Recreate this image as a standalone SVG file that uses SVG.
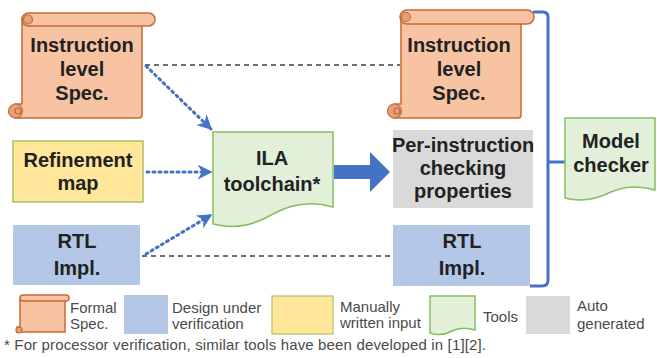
<svg xmlns="http://www.w3.org/2000/svg" width="657" height="358" viewBox="0 0 657 358">
<defs>
<style>
.lbl{font-family:"Liberation Sans",Arial,sans-serif;font-weight:bold;font-size:20px;fill:#222;text-anchor:middle}
.leg{font-family:"Liberation Sans",Arial,sans-serif;font-size:15px;fill:#4a4a4a}
.scroll{fill:#f8c3a3;stroke:#c66a35;stroke-width:1.5}
.curl{fill:#e3a07a;stroke:#c66a35;stroke-width:1.2}
.doc{fill:#e2f0d9;stroke:#86bd60;stroke-width:1.5}
.dash{stroke:#6e6e6e;stroke-width:2;stroke-dasharray:5 4;fill:none}
.dot{stroke:#4472c4;stroke-width:3;stroke-dasharray:2 4;stroke-linecap:round;fill:none;marker-end:url(#open)}
</style>
<marker id="open" viewBox="0 0 10 10" refX="9" refY="5" markerWidth="5" markerHeight="5" orient="auto" markerUnits="strokeWidth">
<path d="M0,0 L10,5 L0,10 L3,5 Z" fill="#4472c4"/>
</marker>
</defs>
<rect width="657" height="358" fill="#fff"/>

<g id="connectors">
<line class="dash" x1="145" y1="65" x2="400" y2="65"/>
<line class="dash" x1="142" y1="256" x2="393" y2="256"/>
<path class="dot" d="M146,66 L211,129"/>
<path class="dot" d="M147,172 L211,172"/>
<path class="dot" d="M146,254 L211,215"/>
<polygon points="334,165 370,165 370,152 390,172 370,192 370,179 334,179" fill="#4472c4"/>
<path d="M533,12 H543 Q548,12 548,17 V280 Q548,286 542,286 H530" fill="none" stroke="#4472c4" stroke-width="3"/>
<line x1="548" y1="162" x2="565" y2="162" stroke="#4472c4" stroke-width="3"/>
</g>

<g id="spec-left">
<path class="scroll" d="M22,19 H142 V115 Q142,118 139,118 H15 V104 H22 Z"/>
<rect class="scroll" x="22" y="13" width="133" height="13" rx="6.5"/>
<circle class="curl" cx="28" cy="19.5" r="4.5"/>
<circle class="curl" cx="15.5" cy="111" r="7"/>
<circle class="curl" cx="18" cy="111" r="3"/>
<text class="lbl" x="82" y="52">Instruction</text>
<text class="lbl" x="82" y="76">level</text>
<text class="lbl" x="82" y="100">Spec.</text>
</g>

<g id="refinement">
<rect x="13" y="141" width="130" height="61" fill="#ffe699" stroke="#a7c16c" stroke-width="1.5"/>
<text class="lbl" x="78" y="167">Refinement</text>
<text class="lbl" x="78" y="190">map</text>
</g>

<g id="rtl-left">
<rect x="13" y="225" width="127" height="60" fill="#b4c7e7"/>
<text class="lbl" x="77" y="248">RTL</text>
<text class="lbl" x="77" y="275">Impl.</text>
</g>

<g id="ila">
<path class="doc" d="M213,132 H333 V207 Q302,198 273,214 Q243,232 213,224 Z"/>
<text class="lbl" x="272" y="165">ILA</text>
<text class="lbl" x="272" y="191">toolchain*</text>
</g>

<g id="spec-right">
<path class="scroll" d="M401,17 H521 V115 Q521,118 518,118 H394 V104 H401 Z"/>
<rect class="scroll" x="400" y="10" width="134" height="14" rx="7"/>
<circle class="curl" cx="406" cy="17" r="4.5"/>
<circle class="curl" cx="394.5" cy="111" r="7"/>
<circle class="curl" cx="397" cy="111" r="3"/>
<text class="lbl" x="459" y="52">Instruction</text>
<text class="lbl" x="459" y="76">level</text>
<text class="lbl" x="459" y="100">Spec.</text>
</g>

<g id="properties">
<rect x="393" y="130" width="140" height="78" fill="#d9d9d9"/>
<text class="lbl" x="463" y="152">Per-instruction</text>
<text class="lbl" x="463" y="175">checking</text>
<text class="lbl" x="463" y="198">properties</text>
</g>

<g id="rtl-right">
<rect x="393" y="225" width="137" height="61" fill="#b4c7e7"/>
<text class="lbl" x="462" y="248">RTL</text>
<text class="lbl" x="462" y="275">Impl.</text>
</g>

<g id="model-checker">
<path class="doc" d="M565,118 H655 V190 Q632,183 611,192 Q587,204 565,198 Z"/>
<text class="lbl" x="611" y="148">Model</text>
<text class="lbl" x="611" y="172">checker</text>
</g>

<g id="legend">
<path class="scroll" d="M20,299 H65 V332 H17 V327 H20 Z" stroke-width="1"/>
<rect class="scroll" x="20" y="295" width="49" height="6" rx="3" stroke-width="1"/>
<circle class="curl" cx="19" cy="330" r="3" stroke-width="0.8"/>
<text class="leg" x="70" y="313">Formal</text>
<text class="leg" x="70" y="329">Spec.</text>
<rect x="124" y="295" width="44" height="39" fill="#b4c7e7"/>
<text class="leg" x="172" y="313">Design under</text>
<text class="leg" x="172" y="329">verification</text>
<rect x="272" y="296" width="61" height="38" fill="#ffe699" stroke="#a7c16c" stroke-width="1.2"/>
<text class="leg" x="340" y="312">Manually</text>
<text class="leg" x="340" y="328">written input</text>
<path class="doc" d="M430,296 H475 V330 Q462,326 452,331 Q441,337 430,333 Z" stroke-width="1.2"/>
<text class="leg" x="483" y="322">Tools</text>
<rect x="526" y="296" width="44" height="38" fill="#d9d9d9"/>
<text class="leg" x="577" y="311">Auto</text>
<text class="leg" x="577" y="329">generated</text>
<text class="leg" x="4" y="350" textLength="482" lengthAdjust="spacing">* For processor verification, similar tools have been developed in [1][2].</text>
</g>
</svg>
